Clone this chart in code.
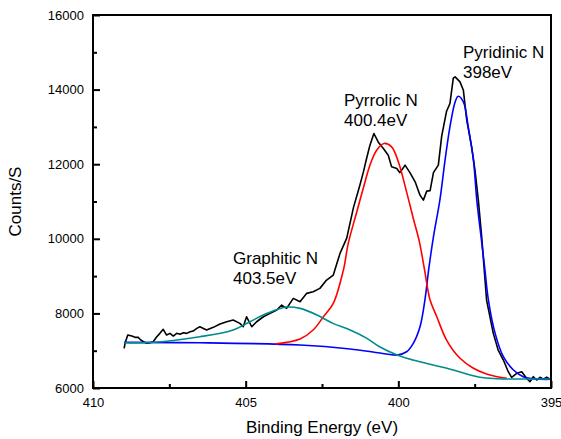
<!DOCTYPE html>
<html>
  <head>
    <meta charset="UTF-8" />
    <style>
      body {
        margin: 0;
        background: #fff;
      }
      svg {
        display: block;
        font-family: "Liberation Sans", Arial, sans-serif;
      }
    </style>
  </head>
  <body>
    <svg></svg>
    <script src="https://d3js.org/d3.v7.min.js"></script>

    <script>
      // measured spectrum (binding energy in eV, counts/s)
      const rawEnergy = [
        408.98, 408.95, 408.86, 408.73, 408.62, 408.52, 408.46, 408.35, 408.24,
        408.13, 408.03, 407.91, 407.81, 407.7, 407.59, 407.48, 407.37, 407.26,
        407.15, 407.04, 406.93, 406.82, 406.72, 406.6, 406.5, 406.28, 406.06,
        405.84, 405.62, 405.41, 405.19, 405.08, 404.97, 404.8, 404.64, 404.42,
        404.2, 403.98, 403.82, 403.66, 403.44, 403.22, 403.0, 402.79, 402.57,
        402.35, 402.13, 401.91, 401.69, 401.47, 401.26, 401.15, 401.04, 400.93,
        400.8, 400.66, 400.49, 400.33, 400.22, 400.05, 399.95, 399.78, 399.62,
        399.45, 399.29, 399.18, 399.07, 398.96, 398.85, 398.69, 398.58, 398.42,
        398.31, 398.2, 398.14, 397.98, 397.87, 397.76, 397.6, 397.49, 397.38,
        397.27, 397.11, 396.89, 396.73, 396.56, 396.4, 396.29, 396.12, 395.96,
        395.8, 395.69, 395.58, 395.47, 395.36, 395.25, 395.14, 395.03,
      ];
      const rawCounts = [
        7064, 7206, 7420, 7393, 7358, 7358, 7305, 7240, 7198, 7214, 7240, 7374,
        7465, 7573, 7420, 7465, 7393, 7465, 7439, 7481, 7465, 7508, 7527, 7599,
        7642, 7554, 7626, 7715, 7776, 7822, 7733, 7642, 7910, 7642, 7776, 7910,
        8001, 8090, 8224, 8135, 8403, 8312, 8537, 8580, 8671, 8893, 9027, 9609,
        10019, 10836, 11438, 11773, 12154, 12510, 12823, 12598, 12422, 12242,
        11929, 11886, 11773, 11974, 11773, 11527, 11170, 11037, 11278, 11291,
        11773, 11974, 12751, 13421, 13627, 14305, 14340, 14206, 13983, 13180,
        12465, 11840, 11037, 10053, 8358, 7465, 7018, 6750, 6437, 6287, 6394,
        6437, 6260, 6169, 6303, 6214, 6287, 6233, 6287, 6233,
      ];

      // fitted components (peak + background)
      const pyridinicEnergy = [
        408.98, 406.5, 403.22, 401.58, 400.6, 400.04, 399.73, 399.51, 399.29,
        399.13, 399.0, 398.85, 398.64, 398.47, 398.31, 398.14, 398.04, 397.87,
        397.71, 397.54, 397.43, 397.29, 397.17, 397.05, 396.83, 396.56, 396.23,
        395.91, 395.47, 395.03,
      ];
      const pyridinicCounts = [
        7224, 7214, 7152, 7045, 6938, 6884, 6972, 7198, 7642, 8358, 9215, 10053,
        11037, 12108, 13000, 13670, 13823, 13670, 13000, 12108, 11037, 10053,
        9215, 8358, 7465, 6839, 6482, 6303, 6241, 6233,
      ];

      const pyrrolicEnergy = [
        404.04, 403.22, 402.79, 402.46, 402.13, 401.8, 401.64, 401.36, 401.15,
        400.93, 400.71, 400.47, 400.22, 400.0, 399.73, 399.51, 399.31, 399.14,
        398.96, 398.74, 398.42, 397.98, 397.54, 397.11, 396.67, 396.45,
      ];
      const pyrrolicCounts = [
        7179, 7313, 7554, 7902, 8269, 9161, 9877, 10723, 11350, 11974, 12376,
        12555, 12465, 12063, 11259, 10546, 9919, 9161, 8358, 7910, 7286, 6796,
        6528, 6375, 6287, 6260,
      ];

      const graphiticEnergy = [
        408.98, 408.13, 406.5, 405.41, 404.86, 404.3, 403.65, 403.22, 402.66,
        402.14, 401.58, 401.03, 400.6, 400.04, 399.52, 398.41, 397.33, 396.77,
        395.13, 395.0,
      ];
      const graphiticCounts = [
        7214, 7219, 7374, 7554, 7776, 8001, 8170, 8135, 7956, 7733, 7554, 7331,
        7098, 6884, 6750, 6528, 6287, 6249, 6241, 6241,
      ];

      const xTicks = [410, 405, 400, 395];
      const xMinorTicks = [407.5, 402.5, 397.5];
      const yTicks = [6000, 8000, 10000, 12000, 14000, 16000];
      const yMinorTicks = [7000, 9000, 11000, 13000, 15000];

      const peakLabels = [
        { name: "Pyridinic N", pos: "398eV", x: 463, y: 58 },
        { name: "Pyrrolic N", pos: "400.4eV", x: 344, y: 105.5 },
        { name: "Graphitic N", pos: "403.5eV", x: 233, y: 263.5 },
      ];

      let width = 561,
        height = 439;
      let margin = { top: 15, right: 10, bottom: 51, left: 93 };

      let svg = d3
        .select("svg")
        .attr("width", width)
        .attr("height", height);

      let x = d3
        .scaleLinear()
        .domain([410, 395])
        .range([margin.left, width - margin.right]);
      let y = d3
        .scaleLinear()
        .domain([6000, 16000])
        .range([height - margin.bottom, margin.top]);

      function zip(es, cs) {
        return es.map((e, i) => [e, cs[i]]);
      }

      let smooth = d3
        .line()
        .x((d) => x(d[0]))
        .y((d) => y(d[1]))
        .curve(d3.curveCatmullRom.alpha(0.5));
      let jagged = d3
        .line()
        .x((d) => x(d[0]))
        .y((d) => y(d[1]));

      // data lines
      let plot = svg.append("g").attr("fill", "none");
      plot
        .append("path")
        .attr("d", jagged(zip(rawEnergy, rawCounts)))
        .attr("stroke", "#000")
        .attr("stroke-width", 1.6)
        .attr("stroke-linejoin", "round");
      plot
        .append("path")
        .attr("d", smooth(zip(pyridinicEnergy, pyridinicCounts)))
        .attr("stroke", "#0000ff")
        .attr("stroke-width", 1.6);
      plot
        .append("path")
        .attr("d", smooth(zip(pyrrolicEnergy, pyrrolicCounts)))
        .attr("stroke", "#ff0000")
        .attr("stroke-width", 1.6);
      plot
        .append("path")
        .attr("d", smooth(zip(graphiticEnergy, graphiticCounts)))
        .attr("stroke", "#008b8b")
        .attr("stroke-width", 1.6);

      // axes (ticks point inward)
      let xAxis = svg
        .append("g")
        .attr("transform", "translate(0," + y(6000) + ")")
        .call(
          d3
            .axisBottom(x)
            .tickValues(xTicks)
            .tickFormat(d3.format("d"))
            .tickSizeInner(-7)
            .tickSizeOuter(0)
            .tickPadding(10)
        );
      svg
        .append("g")
        .attr("transform", "translate(0," + y(6000) + ")")
        .call(
          d3
            .axisBottom(x)
            .tickValues(xMinorTicks)
            .tickFormat("")
            .tickSizeInner(-4)
            .tickSizeOuter(0)
        );
      let yAxis = svg
        .append("g")
        .attr("transform", "translate(" + x(410) + ",0)")
        .call(
          d3
            .axisLeft(y)
            .tickValues(yTicks)
            .tickFormat(d3.format("d"))
            .tickSizeInner(-7)
            .tickSizeOuter(0)
            .tickPadding(9)
        );
      svg
        .append("g")
        .attr("transform", "translate(" + x(410) + ",0)")
        .call(
          d3
            .axisLeft(y)
            .tickValues(yMinorTicks)
            .tickFormat("")
            .tickSizeInner(-4)
            .tickSizeOuter(0)
        );

      svg.selectAll(".domain").remove();
      svg.selectAll(".tick line").attr("stroke", "#000").attr("stroke-width", 2);
      svg
        .selectAll(".tick text")
        .attr("fill", "#000")
        .style("font-size", "13px")
        .style("font-family", "'Liberation Sans', Arial, sans-serif");

      // frame
      svg
        .append("rect")
        .attr("x", x(410))
        .attr("y", y(16000))
        .attr("width", x(395) - x(410))
        .attr("height", y(6000) - y(16000))
        .attr("fill", "none")
        .attr("stroke", "#000")
        .attr("stroke-width", 2);

      // axis titles
      svg
        .append("text")
        .attr("x", (x(410) + x(395)) / 2)
        .attr("y", 433)
        .attr("text-anchor", "middle")
        .style("font-size", "17px")
        .text("Binding Energy (eV)");
      svg
        .append("text")
        .attr("transform", "translate(21," + (y(6000) + y(16000)) / 2 + ") rotate(-90)")
        .attr("text-anchor", "middle")
        .style("font-size", "17px")
        .text("Counts/S");

      // peak annotations
      let notes = svg
        .append("g")
        .selectAll("text")
        .data(peakLabels)
        .enter()
        .append("text")
        .attr("x", (d) => d.x)
        .attr("y", (d) => d.y)
        .style("font-size", "17px");
      notes.append("tspan").text((d) => d.name);
      notes
        .append("tspan")
        .attr("x", (d) => d.x)
        .attr("dy", 20)
        .text((d) => d.pos);
    </script>
  </body>
</html>
